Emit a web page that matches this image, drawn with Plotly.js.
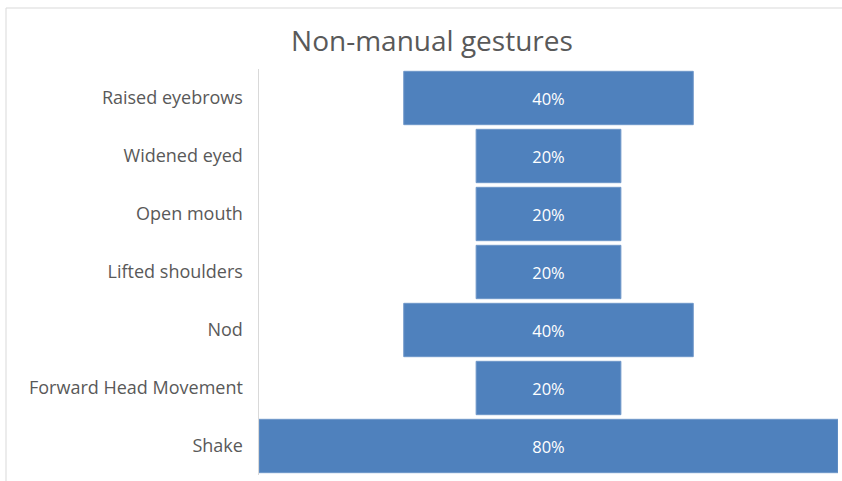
<!DOCTYPE html>
<html>
<head>
<meta charset="utf-8">
<script src="https://cdn.plot.ly/plotly-3.0.1.min.js"></script>
<style>html,body{margin:0;padding:0;background:#fff;}#chart{width:842px;height:481px;}</style>
</head>
<body>
<div id="chart"></div>
<script>
const categories = ["Raised eyebrows", "Widened eyed", "Open mouth", "Lifted shoulders", "Nod", "Forward Head Movement", "Shake"];
const percentages = [40, 20, 20, 20, 40, 20, 80];
const chartTitle = "Non-manual gestures";

const trace = {
  type: "funnel",
  y: categories,
  x: percentages,
  texttemplate: "%{x}%",
  textposition: "inside",
  insidetextanchor: "middle",
  textfont: {family: "Open Sans, sans-serif", size: 16.5, color: "#ffffff"},
  marker: {color: "#4f81bd", line: {color: "#6f97c9", width: 1}},
  connector: {visible: false},
  hoverinfo: "none"
};

const layout = {
  width: 842,
  height: 481,
  margin: {l: 259, r: 4, t: 69, b: 6, pad: 0},
  paper_bgcolor: "#ffffff",
  plot_bgcolor: "#ffffff",
  showlegend: false,
  funnelgap: 0.08,
  title: {
    text: chartTitle,
    font: {family: "Open Sans, sans-serif", size: 28, color: "#595959"},
    xref: "container", x: 0.513, xanchor: "center",
    yref: "container", y: 0.915, yanchor: "middle"
  },
  xaxis: {
    range: [-40, 40],
    visible: false,
    fixedrange: true
  },
  yaxis: {
    showline: true,
    linecolor: "#d9d9d9",
    linewidth: 1.5,
    showgrid: false,
    zeroline: false,
    ticks: "",
    ticklabelstandoff: 11,
    tickfont: {family: "Open Sans, sans-serif", size: 18, color: "#595959"},
    fixedrange: true
  },
  shapes: [{
    type: "rect", xref: "paper", yref: "paper",
    x0: (6 - 259) / 579, x1: 1.2, y0: -0.2, y1: (475 - 8) / 406,
    line: {color: "#d9d9d9", width: 1}, fillcolor: "rgba(0,0,0,0)", layer: "below"
  }]
};

Plotly.newPlot("chart", [trace], layout, {displayModeBar: false, staticPlot: true});
</script>
</body>
</html>
